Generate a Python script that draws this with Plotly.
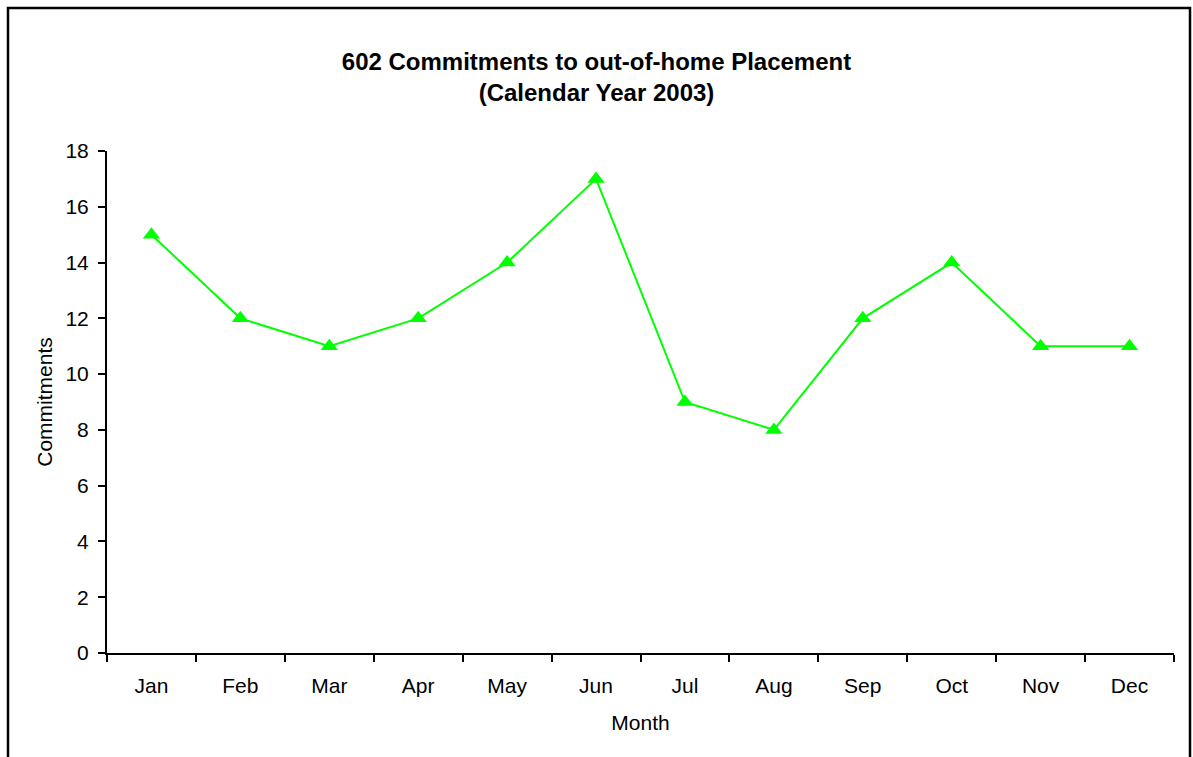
import plotly.graph_objects as go

months = ["Jan", "Feb", "Mar", "Apr", "May", "Jun", "Jul", "Aug", "Sep", "Oct", "Nov", "Dec"]
commitments = [15, 12, 11, 12, 14, 17, 9, 8, 12, 14, 11, 11]
y_ticks = [0, 2, 4, 6, 8, 10, 12, 14, 16, 18]

W, H = 1193, 757
L, R, T, B = 107, 19, 151, 104
pw, ph = W - L - R, H - T - B

def px_x(x):
    return (x - L) / pw

def px_y(y):
    return (H - B - y) / ph

fig = go.Figure()
fig.add_trace(go.Scatter(
    x=months, y=commitments, mode="lines+markers",
    line=dict(color="#00FF00", width=2),
    marker=dict(symbol="triangle-up", size=15, color="#00FF00"),
    showlegend=False,
))

fig.update_layout(
    width=W, height=H,
    margin=dict(l=L, r=R, t=T, b=B),
    paper_bgcolor="white", plot_bgcolor="white",
    font=dict(family="Liberation Sans, Arial, sans-serif", size=21, color="black"),
    title=dict(
        text="<b>602 Commitments to out-of-home Placement<br>(Calendar Year 2003)</b>",
        x=0.5, xanchor="center", y=1 - 70 / H, yanchor="middle",
        font=dict(size=24, color="black"),
    ),
    xaxis=dict(
        type="category", categoryorder="array", categoryarray=months,
        range=[-0.5, 11.5], showgrid=False, zeroline=False,
        showline=True, linecolor="black", linewidth=2,
        ticks="outside", tickson="boundaries", ticklen=7, tickwidth=2, tickcolor="black",
        title=dict(text="Month", standoff=19, font=dict(size=21)),
        ticklabelstandoff=13,
    ),
    yaxis=dict(
        range=[0, 18], tickvals=y_ticks, showgrid=False, zeroline=False,
        showline=True, linecolor="black", linewidth=2,
        ticks="outside", ticklen=7, tickwidth=2, tickcolor="black",
        ticklabelstandoff=5,
        title=dict(text="Commitments", standoff=7, font=dict(size=21)),
    ),
    shapes=[dict(
        type="rect", xref="paper", yref="paper",
        x0=px_x(8), x1=px_x(1190), y0=px_y(8), y1=px_y(770),
        line=dict(color="black", width=2.5), fillcolor="rgba(0,0,0,0)", layer="below",
    )],
)

fig.write_html(
    "out.html",
    config={"displayModeBar": False},
    post_script="document.body.style.margin='0';document.body.style.overflow='hidden';",
)
